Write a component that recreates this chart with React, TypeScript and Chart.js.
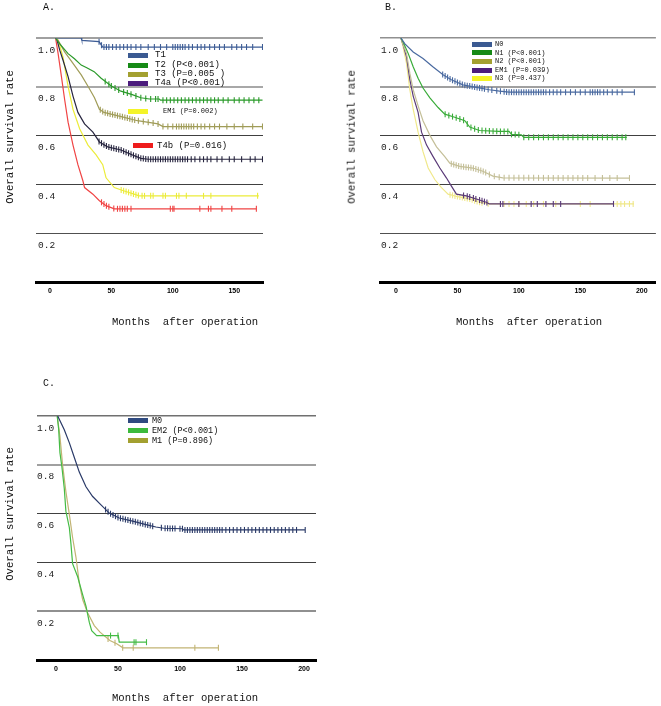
import React, { useEffect, useRef } from 'react';
import { Chart, registerables } from 'chart.js';

Chart.register(...registerables);

type Pt = [number, number];

// ---------------- DATA (months, survival) ----------------
// Panel A (T stage)
const A_T1: Pt[] = [[4.3, 1.0], [25.5, 1.0], [26, 0.99], [40, 0.985], [43, 0.963], [173, 0.963]];
const A_T2: Pt[] = [[4.5, 1.0], [8, 0.976], [14.8, 0.936], [20, 0.915], [25.5, 0.889], [30, 0.878], [36, 0.862], [41.7, 0.835], [49.7, 0.804], [57.8, 0.782], [67, 0.768], [74, 0.755], [81, 0.75], [89, 0.75], [90, 0.745], [173, 0.745]];
const A_T3: Pt[] = [[5, 1.0], [6.7, 0.99], [12, 0.943], [18.8, 0.896], [25.5, 0.849], [31, 0.802], [36.3, 0.755], [40.3, 0.708], [44, 0.695], [49.7, 0.688], [60.5, 0.675], [71.2, 0.661], [83, 0.652], [88, 0.648], [92, 0.637], [173, 0.637]];
const A_T4a: Pt[] = [[5.4, 1.0], [8, 0.95], [10.7, 0.909], [14.8, 0.842], [18.8, 0.762], [22.8, 0.695], [28.2, 0.648], [35, 0.614], [40.3, 0.574], [47, 0.554], [57.8, 0.541], [67, 0.521], [74, 0.507], [80, 0.503], [173, 0.503]];
const A_EM1: Pt[] = [[5.9, 1.0], [8, 0.97], [10.7, 0.922], [14.8, 0.802], [18.8, 0.708], [24.2, 0.628], [31, 0.561], [37.6, 0.521], [43, 0.481], [45.7, 0.427], [52.4, 0.387], [60.5, 0.373], [68.5, 0.36], [72.6, 0.353], [170, 0.353]];
const A_T4b: Pt[] = [[4.6, 1.0], [6.7, 0.936], [9.4, 0.842], [12, 0.748], [14.8, 0.655], [18.8, 0.561], [22.8, 0.481], [26.9, 0.414], [28.2, 0.387], [35, 0.36], [40.3, 0.333], [45.7, 0.313], [52.4, 0.3], [168, 0.3]];

const A_T1_cens = [40, 42, 44, 46, 48, 51, 54, 57, 60, 63, 66, 70, 74, 80, 85, 90, 95, 100, 102, 104, 106, 108, 110, 113, 116, 120, 123, 126, 130, 134, 138, 142, 148, 152, 156, 160, 165, 173];
const A_T2_cens = [45, 48, 50, 53, 56, 60, 63, 66, 70, 74, 78, 82, 86, 88, 92, 95, 98, 101, 104, 107, 110, 113, 116, 119, 122, 125, 128, 131, 134, 137, 141, 145, 150, 154, 158, 162, 166, 170];
const A_T3_cens = [41, 43, 45, 47, 49, 51, 53, 55, 57, 59, 61, 63, 65, 67, 69, 72, 76, 80, 84, 88, 92, 96, 100, 103, 105, 107, 109, 111, 113, 115, 117, 120, 123, 126, 130, 134, 138, 144, 150, 157, 165, 173];
const A_T4a_cens = [40, 42, 44, 46, 48, 50, 52, 54, 56, 58, 60, 62, 64, 66, 68, 70, 72, 74, 76, 78, 80, 82, 84, 86, 88, 90, 92, 94, 96, 98, 100, 102, 104, 106, 108, 110, 112, 115, 118, 122, 125, 128, 131, 136, 140, 146, 150, 156, 163, 167, 173];
const A_EM1_cens = [58, 60, 62, 64, 66, 68, 70, 72, 75, 77, 82, 84, 92, 94, 103, 105, 111, 125, 131, 169];
const A_T4b_cens = [42, 44, 46, 48, 52, 55, 57, 59, 61, 63, 66, 98, 100, 101, 122, 129, 131, 140, 148, 168];

// Panel B (N stage)
const B_N0: Pt[] = [[4, 1.0], [7.3, 0.976], [14, 0.943], [22, 0.916], [30, 0.882], [38.3, 0.849], [45, 0.829], [54.5, 0.808], [65.3, 0.798], [76, 0.788], [84.3, 0.782], [92, 0.778], [194.5, 0.778]];
const B_N1: Pt[] = [[4, 1.0], [5.9, 0.983], [10, 0.936], [14, 0.882], [18, 0.835], [22, 0.795], [27.6, 0.755], [34.3, 0.715], [39.7, 0.688], [47.8, 0.675], [56, 0.661], [60, 0.635], [68, 0.621], [84, 0.617], [92, 0.617], [94, 0.605], [102, 0.603], [104, 0.593], [187.8, 0.593]];
const B_N2: Pt[] = [[4, 1.0], [6, 0.97], [8.6, 0.936], [11.3, 0.855], [14, 0.788], [18, 0.722], [22, 0.661], [27.6, 0.601], [33, 0.554], [39.7, 0.514], [43.8, 0.487], [51.9, 0.474], [62.6, 0.467], [70.7, 0.454], [78.9, 0.434], [87, 0.427], [190.4, 0.426]];
const B_EM1: Pt[] = [[4, 1.0], [6, 0.97], [8.6, 0.922], [11.3, 0.829], [14, 0.762], [18, 0.695], [20.8, 0.614], [24.9, 0.561], [30.2, 0.514], [35.7, 0.467], [41, 0.427], [45, 0.394], [49.2, 0.36], [57.3, 0.353], [65.4, 0.34], [73.5, 0.327], [76, 0.32], [177, 0.32]];
const B_N3: Pt[] = [[4, 1.0], [5.5, 0.97], [8.6, 0.896], [11.3, 0.788], [14, 0.708], [18, 0.614], [22, 0.534], [26.2, 0.467], [31.6, 0.42], [37, 0.387], [42.4, 0.36], [49.2, 0.351], [60, 0.34], [68, 0.327], [76, 0.32], [193.7, 0.32]];

const B_N0_cens = [38, 40, 42, 44, 46, 48, 50, 52, 54, 56, 58, 60, 62, 64, 66, 68, 70, 72, 75, 78, 82, 85, 88, 90, 92, 94, 96, 98, 100, 102, 104, 106, 108, 110, 112, 114, 116, 118, 120, 122, 125, 128, 131, 134, 138, 142, 146, 150, 154, 158, 160, 162, 164, 166, 169, 172, 176, 180, 184, 194];
const B_N1_cens = [40, 43, 46, 49, 52, 55, 58, 61, 64, 67, 70, 73, 76, 79, 82, 85, 88, 91, 94, 97, 100, 104, 108, 112, 116, 120, 124, 128, 132, 136, 140, 144, 148, 152, 156, 160, 164, 168, 172, 176, 180, 184, 187];
const B_N2_cens = [45, 47, 49, 51, 53, 55, 57, 59, 61, 63, 65, 67, 69, 71, 73, 76, 80, 84, 88, 92, 96, 100, 104, 108, 112, 116, 120, 124, 128, 132, 136, 140, 144, 148, 152, 156, 162, 168, 174, 180, 190];
const B_EM1_cens = [55, 58, 60, 63, 65, 68, 70, 72, 74, 85, 87, 100, 110, 115, 122, 128, 134, 177];
const B_N3_cens = [44, 46, 48, 50, 52, 54, 56, 58, 60, 62, 64, 66, 68, 70, 75, 85, 88, 92, 96, 100, 106, 112, 120, 130, 150, 158, 180, 183, 186, 190, 193];

// Panel C (M stage)
const C_M0: Pt[] = [[1.4, 1.0], [6.7, 0.944], [10.8, 0.89], [14.8, 0.83], [18.8, 0.77], [24.2, 0.71], [29.6, 0.67], [36.3, 0.636], [43, 0.602], [51, 0.582], [61.8, 0.569], [72.6, 0.555], [80.6, 0.545], [87, 0.54], [102, 0.538], [103, 0.533], [200.8, 0.533]];
const C_EM2: Pt[] = [[1, 1.0], [2.2, 0.944], [3.2, 0.85], [4.8, 0.79], [6.7, 0.703], [8, 0.61], [10.8, 0.542], [12.1, 0.475], [13.4, 0.395], [17.5, 0.341], [21.5, 0.268], [24.2, 0.221], [26.9, 0.154], [28.8, 0.12], [32.8, 0.1], [50.3, 0.1], [51, 0.073], [73, 0.073]];
const C_M1: Pt[] = [[1, 1.0], [3.2, 0.917], [5.4, 0.797], [8, 0.69], [10.8, 0.596], [13.4, 0.502], [16.1, 0.422], [18.8, 0.315], [21.5, 0.248], [25.5, 0.194], [30.9, 0.141], [35.5, 0.114], [43.5, 0.08], [49, 0.067], [54, 0.05], [131, 0.05]];

const C_M0_cens = [40, 42, 44, 46, 48, 50, 52, 54, 56, 58, 60, 62, 64, 66, 68, 70, 72, 74, 76, 78, 85, 88, 90, 92, 94, 96, 100, 102, 104, 106, 108, 110, 112, 114, 116, 118, 120, 122, 124, 126, 128, 130, 132, 134, 137, 140, 143, 146, 149, 152, 155, 158, 161, 164, 167, 170, 173, 176, 179, 182, 185, 188, 191, 194, 201];
const C_EM2_cens = [44, 50, 63, 64.5, 73];
const C_M1_cens = [42, 47.6, 53.8, 62.3, 112, 131];

// ticks
const yTickValues = [0, 0.2, 0.4, 0.6, 0.8, 1.0];
const yTickLabels = ['', '0.2', '0.4', '0.6', '0.8', '1.0'];
const xTicksA = [0, 50, 100, 150];
const xTicksBC = [0, 50, 100, 150, 200];

// legend labels
const labelsA = ['T1', 'T2 (P<0.001)', 'T3 (P=0.005 )', 'T4a (P<0.001)', 'EM1 (P=0.002)', 'T4b (P=0.016)'];
const labelsB = ['N0', 'N1 (P<0.001)', 'N2 (P<0.001)', 'EM1 (P=0.039)', 'N3 (P=0.437)'];
const labelsC = ['M0', 'EM2 (P<0.001)', 'M1 (P=0.896)'];

// ---------------- STYLE ----------------
const MONO = "'Liberation Mono', 'DejaVu Sans Mono', monospace";

type Series = { curve: Pt[]; cens: number[]; line: string; swatch: string };

const seriesA: Series[] = [
  { curve: A_T1, cens: A_T1_cens, line: '#3d5c95', swatch: '#3b5a92' },
  { curve: A_T2, cens: A_T2_cens, line: '#2a9a2a', swatch: '#168a16' },
  { curve: A_T3, cens: A_T3_cens, line: '#a09c58', swatch: '#a3a030' },
  { curve: A_T4a, cens: A_T4a_cens, line: '#27253f', swatch: '#4b1c7c' },
  { curve: A_EM1, cens: A_EM1_cens, line: '#ecec3a', swatch: '#f4f428' },
  { curve: A_T4b, cens: A_T4b_cens, line: '#f04444', swatch: '#ee1c1c' },
];
const seriesB: Series[] = [
  { curve: B_N0, cens: B_N0_cens, line: '#4a6aa0', swatch: '#3b5a92' },
  { curve: B_N1, cens: B_N1_cens, line: '#3aac3a', swatch: '#168a16' },
  { curve: B_N2, cens: B_N2_cens, line: '#c4bf98', swatch: '#a3a030' },
  { curve: B_EM1, cens: B_EM1_cens, line: '#5a3a78', swatch: '#4b1c7c' },
  { curve: B_N3, cens: B_N3_cens, line: '#f0e88a', swatch: '#f4f428' },
];
const seriesC: Series[] = [
  { curve: C_M0, cens: C_M0_cens, line: '#2a3a68', swatch: '#2f4a80' },
  { curve: C_EM2, cens: C_EM2_cens, line: '#44bb44', swatch: '#3cba3c' },
  { curve: C_M1, cens: C_M1_cens, line: '#c2b474', swatch: '#a3a030' },
];

function valueAt(curve: Pt[], t: number): number {
  if (t <= curve[0][0]) return curve[0][1];
  for (let i = 1; i < curve.length; i++) {
    const [x0, y0] = curve[i - 1];
    const [x1, y1] = curve[i];
    if (t <= x1) return y0 + ((y1 - y0) * (t - x0)) / (x1 - x0);
  }
  return curve[curve.length - 1][1];
}

type PanelSpec = {
  series: Series[];
  xMin: number;
  xMax: number;
  xTicks: number[];
  padding: { left: number; right: number; top: number; bottom: number };
  yLabelPad: number;
  gridColors: string[];
  gridWidths: number[];
};

const panelA: PanelSpec = {
  series: seriesA,
  xMin: -11.3,
  xMax: 173.4,
  xTicks: xTicksA,
  padding: { left: 32, right: 398, top: 38, bottom: 405.6 },
  yLabelPad: 2,
  gridColors: ['rgba(0,0,0,0)', '#505050', '#404040', '#404040', '#a8a8a8', '#a0a0a0'],
  gridWidths: [0, 1, 1, 1, 2, 2],
};
const panelB: PanelSpec = {
  series: seriesB,
  xMin: -13,
  xMax: 211.5,
  xTicks: xTicksBC,
  padding: { left: 378, right: 5, top: 38, bottom: 405.6 },
  yLabelPad: 1,
  gridColors: ['rgba(0,0,0,0)', '#505050', '#404040', '#404040', '#a0a0a0', '#909090'],
  gridWidths: [0, 1, 1, 1, 2, 1.5],
};
const panelC: PanelSpec = {
  series: seriesC,
  xMin: -15.3,
  xMax: 209.7,
  xTicks: xTicksBC,
  padding: { left: 37, right: 345, top: 416, bottom: 27.6 },
  yLabelPad: 0,
  gridColors: ['rgba(0,0,0,0)', '#909090', '#404040', '#404040', '#a0a0a0', '#707070'],
  gridWidths: [0, 2, 1, 1, 2, 1.5],
};

function buildConfig(p: PanelSpec): any {
  const datasets: any[] = [];
  p.series.forEach((s) => {
    datasets.push({
      type: 'line',
      data: s.curve.map(([x, y]) => ({ x, y })),
      borderColor: s.line,
      borderWidth: 1.2,
      pointRadius: 0,
      fill: false,
      tension: 0,
    });
    datasets.push({
      type: 'scatter',
      data: s.cens.map((t) => ({ x: t, y: valueAt(s.curve, t) })),
      pointStyle: 'line',
      rotation: 90,
      pointRadius: 3,
      borderColor: s.line,
      backgroundColor: s.line,
      borderWidth: 1.1,
    });
  });
  return {
    type: 'line',
    data: { datasets },
    options: {
      animation: false,
      responsive: false,
      devicePixelRatio: 1,
      events: [],
      layout: { padding: p.padding },
      plugins: { legend: { display: false }, tooltip: { enabled: false } },
      scales: {
        x: {
          type: 'linear',
          min: p.xMin,
          max: p.xMax,
          afterBuildTicks: (scale: any) => {
            scale.ticks = p.xTicks.map((v) => ({ value: v }));
          },
          grid: { display: false, drawTicks: false },
          border: { display: true, color: '#000', width: 3 },
          ticks: {
            autoSkip: false,
            maxRotation: 0,
            padding: 5,
            color: '#000',
            font: { family: "'Liberation Sans', Arial, sans-serif", size: 7, weight: 'bold' },
          },
        },
        y: {
          type: 'linear',
          min: 0,
          max: 1,
          afterBuildTicks: (scale: any) => {
            scale.ticks = yTickValues.map((v) => ({ value: v }));
          },
          border: { display: false },
          grid: {
            drawTicks: false,
            color: (ctx: any) => p.gridColors[ctx.index] ?? '#404040',
            lineWidth: (ctx: any) => p.gridWidths[ctx.index] ?? 1,
          },
          ticks: {
            mirror: true,
            padding: p.yLabelPad,
            labelOffset: 12,
            color: '#222',
            font: { family: MONO, size: 9.5 },
            callback: (_v: any, i: number) => yTickLabels[i],
          },
        },
      },
    },
  };
}

function PanelChart({ spec }: { spec: PanelSpec }) {
  const ref = useRef<HTMLCanvasElement>(null);
  useEffect(() => {
    const chart = new Chart(ref.current as HTMLCanvasElement, buildConfig(spec));
    return () => chart.destroy();
  }, [spec]);
  return (
    <canvas
      ref={ref}
      width={661}
      height={706}
      style={{ position: 'absolute', left: 0, top: 0, width: 661, height: 706 }}
    />
  );
}

function Txt(props: { x: number; y: number; size: number; text: string; rotate?: boolean }) {
  const { x, y, size, text, rotate } = props;
  return (
    <div
      style={{
        position: 'absolute',
        left: x,
        top: y,
        fontFamily: MONO,
        fontSize: size,
        lineHeight: 1,
        whiteSpace: 'pre',
        color: '#111',
        transform: rotate ? 'translate(-50%, -50%) rotate(-90deg)' : 'translateY(-50%)',
      }}
    >
      {text}
    </div>
  );
}

function Bar(props: { x: number; y: number; w: number; h: number; color: string }) {
  return (
    <div
      style={{
        position: 'absolute',
        left: props.x,
        top: props.y - props.h / 2,
        width: props.w,
        height: props.h,
        background: props.color,
      }}
    />
  );
}

// legend layout (positions only)
const legendLayoutA = [
  { bx: 128, by: 55, tx: 155, ty: 55, fs: 9 },
  { bx: 128, by: 65, tx: 155, ty: 65, fs: 9 },
  { bx: 128, by: 74, tx: 155, ty: 74, fs: 9 },
  { bx: 128, by: 83, tx: 155, ty: 83, fs: 9 },
  { bx: 128, by: 111, tx: 163, ty: 111, fs: 7 },
  { bx: 133, by: 145.5, tx: 157, ty: 146, fs: 9 },
];
const legendLayoutB = [44, 52.5, 61, 70, 78].map((y) => ({ bx: 472, by: y, tx: 495, ty: y, fs: 7 }));
const legendLayoutC = [420.5, 430.5, 440.5].map((y) => ({ bx: 128, by: y, tx: 152, ty: y, fs: 8.5 }));

function Legend({ series, labels, layout }: { series: Series[]; labels: string[]; layout: any[] }) {
  return (
    <>
      {layout.map((l, i) => (
        <React.Fragment key={i}>
          <Bar x={l.bx} y={l.by} w={20} h={5} color={series[i].swatch} />
          <Txt x={l.tx} y={l.ty} size={l.fs} text={labels[i]} />
        </React.Fragment>
      ))}
    </>
  );
}

export default function App() {
  return (
    <div style={{ position: 'absolute', left: 0, top: 0, width: 661, height: 706, background: '#fff', overflow: 'hidden' }}>
      <PanelChart spec={panelA} />
      <PanelChart spec={panelB} />
      <PanelChart spec={panelC} />

      <Txt x={43} y={8} size={10} text="A." />
      <Txt x={385} y={8} size={10} text="B." />
      <Txt x={43} y={384} size={10} text="C." />

      <Txt x={10} y={137} size={10.6} text="Overall survival rate" rotate />
      <Txt x={352} y={137} size={10.6} text="Overall survival rate" rotate />
      <Txt x={10} y={514} size={10.6} text="Overall survival rate" rotate />

      <Txt x={112} y={322} size={10.6} text="Months  after operation" />
      <Txt x={456} y={322} size={10.6} text="Months  after operation" />
      <Txt x={112} y={698} size={10.6} text="Months  after operation" />

      <Legend series={seriesA} labels={labelsA} layout={legendLayoutA} />
      <Legend series={seriesB} labels={labelsB} layout={legendLayoutB} />
      <Legend series={seriesC} labels={labelsC} layout={legendLayoutC} />
    </div>
  );
}
